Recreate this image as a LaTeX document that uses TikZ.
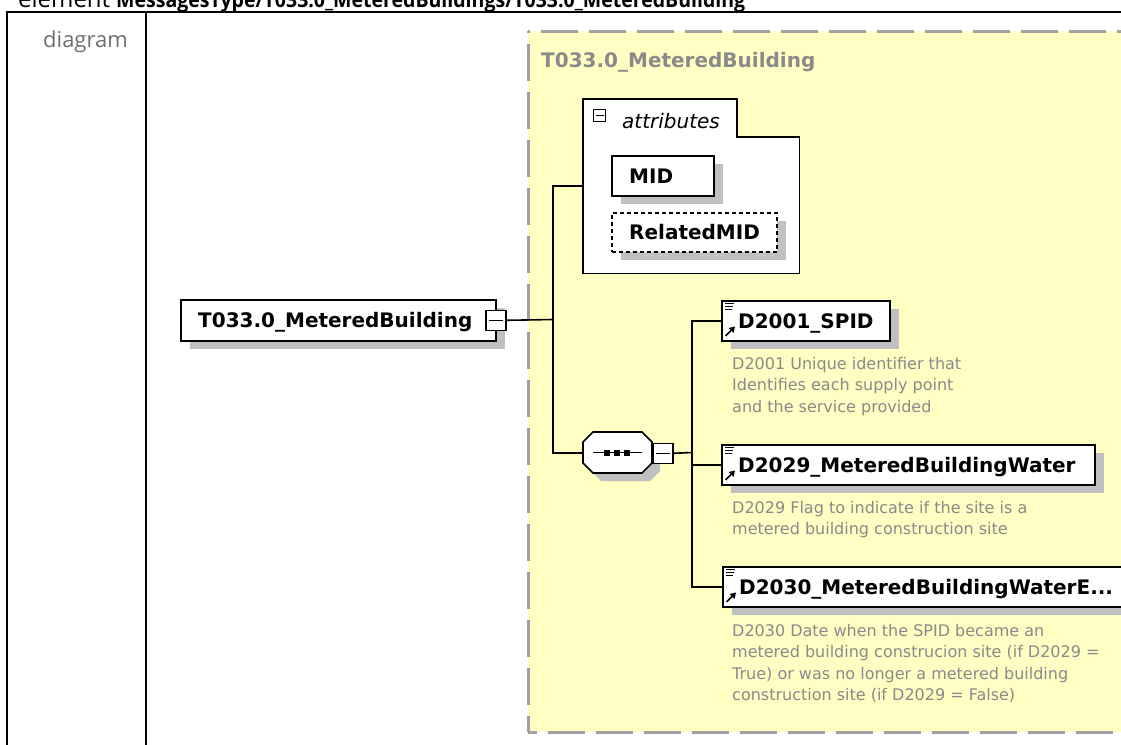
\documentclass[tikz,border=0pt]{standalone}
\usepackage{fontspec}
\setmainfont{DejaVu Sans}
\newfontfamily\osans{Open Sans}
\usetikzlibrary{shadows}

\definecolor{yfill}{RGB}{255,255,196}
\definecolor{dgray}{RGB}{160,160,160}
\definecolor{sgray}{RGB}{192,192,192}
\definecolor{tgray}{RGB}{138,138,138}
\definecolor{lgray}{RGB}{110,110,110}

\tikzset{
  elicons/.pic={
    \draw[line width=1.1pt] (4,3.5) -- (13,3.5) (4,6.5) -- (12,6.5) (4,9.5) -- (11,9.5);
    \draw[line width=1.6pt] (4.5,36) -- (10,30.5);
    \fill (14,26.5) -- (7.5,28) -- (12.5,33) -- cycle;
  }
}

\begin{document}
\begin{tikzpicture}[x=1pt,y=-1pt,
  frame/.style={line width=2pt, draw=black},
  ybox/.style={draw=dgray, line width=3pt, dash pattern=on 37pt off 11pt},
  elbox/.style={draw=black, line width=1.6pt, fill=white, inner sep=0pt, anchor=north west,
    drop shadow={shadow xshift=9pt, shadow yshift=-8pt, fill=sgray, opacity=1}},
  plainbox/.style={draw=black, line width=1.6pt, fill=white, inner sep=0pt, anchor=north west},
  minusbox/.style={plainbox, minimum width=20pt, minimum height=20pt},
  lbl/.style={font=\fontsize{20}{24}\selectfont\bfseries, inner sep=0pt, anchor=base west},
  desc/.style={font=\fontsize{16}{21.5}\selectfont, text=tgray, inner sep=0pt, anchor=north west, align=left},
  conn/.style={line width=1.6pt, draw=black},
  hole/.style={inner sep=0pt, anchor=north west}
]
\useasboundingbox (0,0) rectangle (1121,744);
\clip (0,0) rectangle (1121,744);

% header and table frame
\node[anchor=base west, inner sep=0pt, font=\osans\fontsize{24}{28}\selectfont] (hdr) at (18,7)
  {element\hspace{6pt}\scalebox{0.93}[1]{\fontsize{21}{26}\selectfont\bfseries MessagesType/T033.0\_MeteredBuildings/T033.0\_MeteredBuilding}};
\draw[frame] (7,745) -- (7,12) -- (1125,12);
\draw[frame] (146,12) -- (146,745);
\node[anchor=base west, inner sep=0pt, font=\osans\fontsize{22}{26}\selectfont, text=lgray] (dlab) at (43,47) {diagram};

% complex type area
\fill[yfill] (528,31) rectangle (1130,732);
\draw[ybox, dash phase=35pt] (528,31) -- (1130,31);
\draw[ybox, dash phase=35pt] (528,31) -- (528,732);
\draw[ybox, dash phase=28pt] (528,732) -- (1130,732);
\node[lbl, text=tgray] (ttl) at (541,67) {T033.0\_MeteredBuilding};

% root element
\node[elbox, minimum width=315pt, minimum height=41pt] (root) at (180,299) {};
\node[lbl] (roott) at ([xshift=18pt,yshift=-7.5pt]root.west) {T033.0\_MeteredBuilding};
\node[minusbox] (rootm) at (485,309.5) {};
\draw[line width=1.2pt] ([xshift=4pt]rootm.west) -- ([xshift=-4pt]rootm.east);

% attributes group
\node[hole, minimum width=216pt, minimum height=174pt] (attr) at (583,99) {};
\draw[line width=1.6pt, fill=white] (attr.north west) -- ([xshift=154pt]attr.north west)
  -- ([xshift=154pt,yshift=-38pt]attr.north west) -- ([yshift=-38pt]attr.north east)
  -- (attr.south east) -- (attr.south west) -- cycle;
\node[plainbox, line width=1.3pt, minimum width=12pt, minimum height=12pt] (am) at (593,109) {};
\draw[line width=1.1pt] ([xshift=2.5pt]am.west) -- ([xshift=-2.5pt]am.east);
\node[anchor=base west, inner sep=0pt, font=\fontsize{20}{24}\selectfont\itshape] (attt) at (622,128) {attributes};

\node[elbox, minimum width=102pt, minimum height=40pt] (mid) at (611,155) {};
\node[lbl] (midt) at ([xshift=18pt,yshift=-7.5pt]mid.west) {MID};
\node[elbox, dash pattern=on 4pt off 3pt, minimum width=165pt, minimum height=39pt] (rmid) at (611,212) {};
\node[lbl] (rmidt) at ([xshift=18pt,yshift=-7.5pt]rmid.west) {RelatedMID};

% sequence compositor
\node[hole, minimum width=69pt, minimum height=41pt] (seq) at (583,432) {};
\fill[sgray] (601,440) -- (650,440) -- (660,450) -- (660,471) -- (650,481) -- (601,481) -- (591,471) -- (591,450) -- cycle;
\draw[line width=1.6pt, fill=white] (593,432) -- (642,432) -- (652,442) -- (652,463) -- (642,473) -- (593,473) -- (583,463) -- (583,442) -- cycle;
\draw[line width=1.6pt] (593,452.5) -- (642,452.5);
\foreach \cx in {607,617,627} \fill (\cx-3,449.5) rectangle (\cx+3,455.5);
\node[minusbox] (seqm) at (652,442.5) {};
\draw[line width=1.2pt] ([xshift=4pt]seqm.west) -- ([xshift=-4pt]seqm.east);

% child elements
\node[elbox, minimum width=168pt, minimum height=40pt] (spid) at (721,300) {};
\pic at (spid.north west) {elicons};
\node[lbl] (spidt) at ([xshift=17pt,yshift=-7.5pt]spid.west) {D2001\_SPID};
\node[desc] (spidd) at (732,357) {D2001 Unique identifier that\\Identifies each supply point\\and the service provided};

\node[elbox, minimum width=373pt, minimum height=40pt] (dw) at (721,444) {};
\pic at (dw.north west) {elicons};
\node[lbl] (dwt) at ([xshift=17pt,yshift=-7.5pt]dw.west) {D2029\_MeteredBuildingWater};
\node[desc] (dwd) at (732,501) {D2029 Flag to indicate if the site is a\\metered building construction site};

\node[elbox, minimum width=430pt, minimum height=40pt] (de) at (722,566) {};
\pic at (de.north west) {elicons};
\node[lbl] (det) at ([xshift=17pt,yshift=-7.5pt]de.west) {D2030\_MeteredBuildingWaterE...};
\node[desc] (ded) at (732,624) {D2030 Date when the SPID became an\\metered building construcion site (if D2029 =\\True) or was no longer a metered building\\construction site (if D2029 = False)};

% connectors
\coordinate (j1) at (553,319.5);
\coordinate (j2) at (692,452.5);
\draw[conn] (rootm.east) -- (j1);
\draw[conn] (attr.west) -| (j1) |- (seq.west);
\draw[conn] (seqm.east) -- (j2);
\draw[conn] (spid.west) -| (j2) |- (de.west);
\draw[conn] (dw.west) -- (dw.west -| j2);
\end{tikzpicture}
\end{document}
